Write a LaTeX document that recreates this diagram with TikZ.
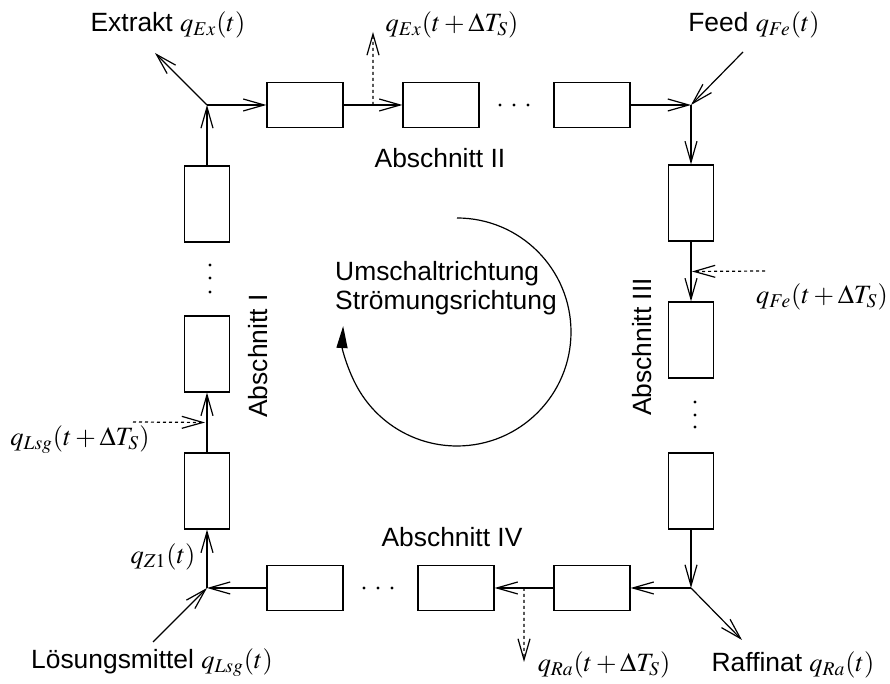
\documentclass[tikz,border=0pt]{standalone}
\usepackage{mathptmx}
\usepackage[no-math]{fontspec}
\setmainfont{Liberation Sans}
\usetikzlibrary{arrows.meta,calc}

\begin{document}
\begin{tikzpicture}[x=0.5pt, y=0.5pt, line width=0.6pt,
    font=\fontsize{13.2}{14.5}\selectfont,
    hcol/.style={draw, minimum width=38pt, minimum height=22.5pt, inner sep=0pt},
    vcol/.style={draw, minimum width=22.5pt, minimum height=38pt, inner sep=0pt},
    flow/.style={-{Straight Barb[length=10.5pt, width=6pt]}},
    switch/.style={flow, dash pattern=on 1.5pt off 1.5pt}]
  \useasboundingbox (0,0) rectangle (890,684);

  % ports at the four corners
  \coordinate (jtl) at (207,579);
  \coordinate (jtr) at (691,579);
  \coordinate (jbr) at (691,96);
  \coordinate (jbl) at (207,96);

  % columns
  \node[hcol] (t1) at (305,579) {};
  \node[hcol] (t2) at (441,579) {};
  \node[hcol] (t3) at (592,579) {};
  \node[vcol] (r1) at (691,481) {};
  \node[vcol] (r2) at (691,344) {};
  \node[vcol] (r3) at (691,193) {};
  \node[hcol] (b1) at (592,96) {};
  \node[hcol] (b2) at (456,96) {};
  \node[hcol] (b3) at (305,96) {};
  \node[vcol] (l1) at (207,193) {};
  \node[vcol] (l2) at (207,330) {};
  \node[vcol] (l3) at (207,480) {};

  % dots for the columns in between
  \foreach \x in {500,514,528} \fill (\x,579) circle (0.8pt);
  \foreach \x in {364,378,392} \fill (\x,96) circle (0.8pt);
  \foreach \y in {257,269,282} \fill (695,\y) circle (0.8pt);
  \foreach \y in {392,406,419} \fill (210,\y) circle (0.8pt);

  % flow through the ring
  \draw[flow] (jtl) -- (t1);
  \draw[flow] (t1) -- (t2);
  \draw[flow] (t3) -- (jtr);
  \draw[flow] (jtr) -- (r1);
  \draw[flow] (r1) -- (r2);
  \draw[flow] (r3) -- (jbr);
  \draw[flow] (jbr) -- (b1);
  \draw[flow] (b1) -- (b2);
  \draw[flow] (b3) -- (jbl);
  \draw[flow] (jbl) -- (l1);
  \draw[flow] (l1) -- (l2);
  \draw[flow] (l3) -- (jtl);

  % inlets and outlets
  \coordinate (exout) at (155,631);
  \coordinate (fein) at (743,632);
  \coordinate (raout) at (742,44);
  \coordinate (lsgin) at (153,42);
  \draw[flow] (jtl) -- (exout);
  \draw[flow] (fein) -- (jtr);
  \draw[flow] (jbr) -- (raout);
  \draw[flow] (lsgin) -- (jbl);

  % ports after the next switch
  \coordinate (exsw) at ($(t1.east)!0.5!(t2.west)$);
  \coordinate (fesw) at ($(r1.south)!0.5!(r2.north)$);
  \coordinate (rasw) at ($(b2.east)!0.5!(b1.west)$);
  \coordinate (lsgsw) at ($(l1.north)!0.5!(l2.south)$);
  \coordinate (exnext) at (373,652);
  \coordinate (fenext) at (765,413);
  \coordinate (ranext) at (524,22);
  \coordinate (lsgnext) at (133,262);
  \draw[switch] (exsw) -- (exnext);
  \draw[switch] (fenext) -- ($(fesw)+(1,0)$);
  \draw[switch] (rasw) -- (ranext);
  \draw[switch] (lsgnext) -- ($(lsgsw)+(-2,0)$);

  % labels
  \node (extrakt) at (168,659) {Extrakt $q_{Ex}(t)$};
  \node (feed) at (754,659) {Feed $q_{Fe}(t)$};
  \node (raffinat) at (793,19) {Raffinat $q_{Ra}(t)$};
  \node (lsg) at (152,21) {Lösungsmittel $q_{Lsg}(t)$};
  \node (exlab) at (452,659) {$q_{Ex}(t+\Delta T_S)$};
  \node (felab) at (822,387) {$q_{Fe}(t+\Delta T_S)$};
  \node (ralab) at (604,19) {$q_{Ra}(t+\Delta T_S)$};
  \node (lsglab) at (80,244) {$q_{Lsg}(t+\Delta T_S)$};
  \node (z1lab) at (163,127) {$q_{Z1}(t)$};

  \node (abs2) at (440,526) {Abschnitt II};
  \node (abs4) at (452,147) {Abschnitt IV};
  \node[rotate=90] (abs1) at (258,328) {Abschnitt I};
  \node[rotate=90] (abs3) at (642,337) {Abschnitt III};

  % direction of switching and flow
  \draw[-{Triangle[length=11pt, width=5.5pt]}] (457,466) arc[start angle=90, end angle=-183, radius=57pt];
  \node[align=left] (dir) at (446,396) {Umschaltrichtung\\Strömungsrichtung};
\end{tikzpicture}
\end{document}
